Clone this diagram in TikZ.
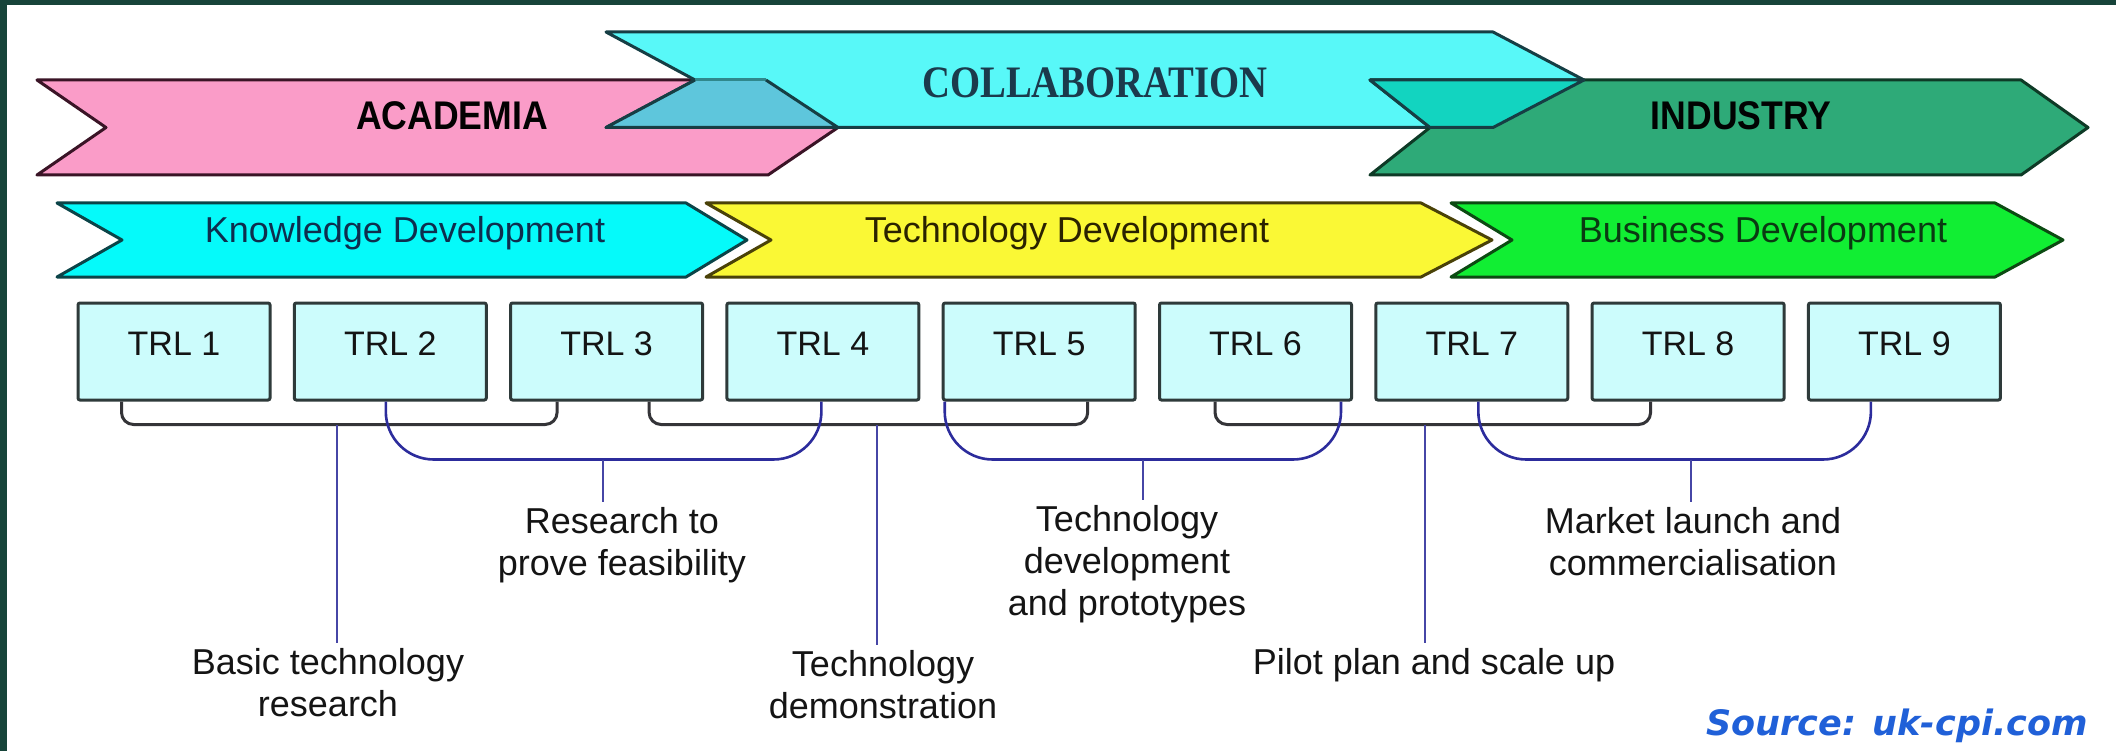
\documentclass[tikz,border=0pt]{standalone}
\usepackage{fontspec}
\setmainfont{Liberation Sans}
\newfontfamily\collabfont{Liberation Serif}
\newfontfamily\srcfont{DejaVu Sans}
\usetikzlibrary{calc}

\definecolor{frame}{HTML}{17443A}
\definecolor{pinkA}{HTML}{FA9CC8}
\definecolor{pinkE}{HTML}{3A1426}
\definecolor{cyanC}{HTML}{58F8F8}
\definecolor{cyanE}{HTML}{163E44}
\definecolor{ovA}{HTML}{5EC6DC}
\definecolor{greenI}{HTML}{2EAA78}
\definecolor{greenE}{HTML}{0E3A26}
\definecolor{ovB}{HTML}{12D4C0}
\definecolor{cyanK}{HTML}{05FAFA}
\definecolor{cyanKE}{HTML}{0B4448}
\definecolor{yellowT}{HTML}{FAF835}
\definecolor{yellowE}{HTML}{4A4208}
\definecolor{greenB}{HTML}{11EE33}
\definecolor{greenBE}{HTML}{0C4A12}
\definecolor{trlfill}{HTML}{CCFCFC}
\definecolor{trledge}{HTML}{2E3A3A}
\definecolor{brk}{HTML}{343438}
\definecolor{brb}{HTML}{2C2C9C}
\definecolor{stemc}{HTML}{4646A6}
\definecolor{srcblue}{HTML}{2060D8}
\definecolor{collabtext}{HTML}{1B3A4C}
\definecolor{knowtext}{HTML}{0E2E4E}
\definecolor{techtext}{HTML}{2A2200}
\definecolor{bustext}{HTML}{0A3A12}

\begin{document}
\begin{tikzpicture}[x=1pt,y=-1pt,
  band/.style={line width=3pt, line join=round},
  trl/.style={draw=trledge, fill=trlfill, line width=3pt, rounded corners=2pt,
    minimum width=192pt, minimum height=97pt, inner sep=0pt,
    text height=25pt, text depth=18pt, font=\fontsize{34}{40}\selectfont, text=black!92},
  blk/.style={draw=brk, line width=3pt, rounded corners=12pt},
  blu/.style={draw=brb, line width=2.6pt, rounded corners=48pt},
  stem/.style={draw=stemc, line width=2pt},
  lbl/.style={align=center, inner xsep=0pt, inner ysep=5pt, anchor=north,
    font=\fontsize{36}{42}\selectfont, text=black!92},
  big/.style={anchor=base, inner sep=0pt, font={\fontsize{40}{48}\selectfont\bfseries}},
  phase/.style={anchor=base, inner sep=0pt, font=\fontsize{36}{42}\selectfont},
]
\fill[white] (0,0) rectangle (2116,751);
\useasboundingbox (0,0) rectangle (2116,751);
\fill[frame] (0,0) rectangle (2116,5);
\fill[frame] (0,0) rectangle (7,751);

% row 1
\filldraw[band, fill=pinkA, draw=pinkE] (37,80) -- (766,80) -- (838,127.5) -- (768,175) -- (37,175) -- (106,127.5) -- cycle;
\filldraw[band, fill=cyanC, draw=cyanE] (606,32) -- (1493,32) -- (1584,80) -- (1493,127.5) -- (606,127.5) -- (695,80) -- cycle;
\filldraw[band, fill=greenI, draw=greenE] (1370,80) -- (2021,80) -- (2088,127.5) -- (2021,175) -- (1370,175) -- (1430,127.5) -- cycle;
\fill[ovA] (695,80) -- (766,80) -- (838,127.5) -- (606,127.5) -- cycle;
\draw[band, draw=cyanE!60!cyanC] (695,80) -- (766,80);
\draw[band, draw=cyanE] (766,80) -- (838,127.5) -- (606,127.5) -- (695,80);
\fill[ovB] (1370,80) -- (1584,80) -- (1493,127.5) -- (1430,127.5) -- cycle;
\draw[band, draw=cyanE] (1370,80) -- (1584,80) -- (1493,127.5) -- (1430,127.5) -- cycle;

\node[big, text=black!95!pinkE] (academia) at (452,130) {\scalebox{0.89}[1]{ACADEMIA}};
\node[anchor=base, inner sep=0pt, font={\collabfont\bfseries\fontsize{45}{52}\selectfont}, text=collabtext] (collab) at (1095,98) {\scalebox{0.86}[1]{COLLABORATION}};
\node[big, text=black!95!greenE] (industry) at (1741,130) {\scalebox{0.89}[1]{INDUSTRY}};

% row 2
\filldraw[band, fill=cyanK, draw=cyanKE] (57,203) -- (686,203) -- (747,240) -- (686,277) -- (57,277) -- (122,240) -- cycle;
\filldraw[band, fill=yellowT, draw=yellowE] (706,203) -- (1421,203) -- (1492,240) -- (1421,277) -- (706,277) -- (771,240) -- cycle;
\filldraw[band, fill=greenB, draw=greenBE] (1451,203) -- (1995,203) -- (2063,240) -- (1995,277) -- (1451,277) -- (1512,240) -- cycle;

\node[phase, text=knowtext] (know) at (405,243) {Knowledge Development};
\node[phase, text=techtext] (tech) at (1067,243) {Technology Development};
\node[phase, text=bustext] (bus) at (1763,243) {Business Development};

% TRL boxes
\foreach \i in {1,...,9} {
  \node[trl] (t\i) at ({174+216.3*(\i-1)},351.5) {TRL \i};
}

% labels
\node[lbl] (basic) at (328,643) {Basic technology\\research};
\node[lbl] (feas) at (622,502) {Research to\\prove feasibility};
\node[lbl] (demo) at (883,645) {Technology\\demonstration};
\node[lbl] (proto) at (1127,500) {Technology\\development\\and prototypes};
\node[lbl] (pilot) at (1434,643) {Pilot plan and scale up};
\node[lbl] (market) at (1693,502) {Market launch and\\commercialisation};

% black brackets
\draw[blk] ($(t1.south west)+(45,0)$) |- ($(t3.south west)+(48,23)$) -- ($(t3.south west)+(48,0)$);
\draw[blk] ($(t3.south west)+(140,0)$) |- ($(t5.south west)+(146,23)$) -- ($(t5.south west)+(146,0)$);
\draw[blk] ($(t6.south west)+(57,0)$) |- ($(t8.south west)+(60,23)$) -- ($(t8.south west)+(60,0)$);
% blue brackets
\draw[blu] ($(t2.south west)+(93,0)$) |- ($(t4.south west)+(96,58)$) -- ($(t4.south west)+(96,0)$);
\draw[blu] ($(t5.south west)+(3,0)$) |- ($(t6.south west)+(183,58)$) -- ($(t6.south west)+(183,0)$);
\draw[blu] ($(t7.south west)+(104,0)$) |- ($(t9.south west)+(64,58)$) -- ($(t9.south west)+(64,0)$);

% stems
\coordinate (s1) at ($(t2.south west)+(44,23)$);
\coordinate (s2) at ($(t3.south west)+(94,58)$);
\coordinate (s3) at ($(t4.south west)+(152,23)$);
\coordinate (s4) at ($(t5.south west)+(201,58)$);
\coordinate (s5) at ($(t7.south west)+(51,23)$);
\coordinate (s6) at ($(t8.south west)+(100,58)$);
\draw[stem] (s1) -- (s1 |- basic.north);
\draw[stem] (s2) -- (s2 |- feas.north);
\draw[stem] (s3) -- (s3 |- demo.north);
\draw[stem] (s4) -- (s4 |- proto.north);
\draw[stem] (s5) -- (s5 |- pilot.north);
\draw[stem] (s6) -- (s6 |- market.north);

\node[anchor=base, inner sep=0pt, font={\srcfont\bfseries\itshape\fontsize{35}{40}\selectfont}, text=srcblue] (src) at (1897,735) {Source: uk-cpi.com};
\end{tikzpicture}
\end{document}
